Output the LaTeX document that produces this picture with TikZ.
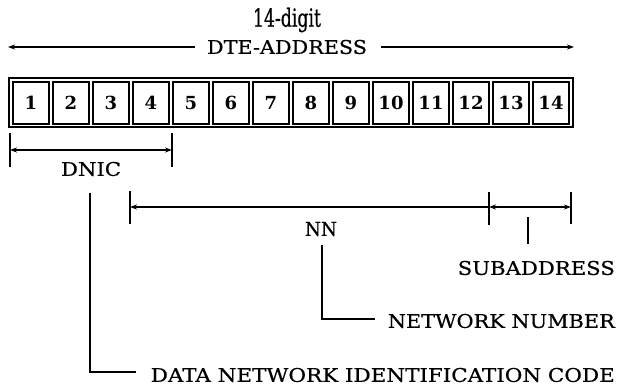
\documentclass[tikz,border=0pt]{standalone}
\usepackage{fontspec}
\setmainfont{DejaVu Serif}
\newfontfamily\lblfont[FakeBold=0.6]{DejaVu Serif}
\usetikzlibrary{arrows.meta}
\newcommand\fitlabel[3]{\resizebox{#1pt}{#2pt}{\lblfont #3}}
\begin{document}
\begin{tikzpicture}[x=1pt,y=-1pt,
  frame/.style={line width=2.8pt},
  cell/.style={draw,line width=2.4pt,minimum width=36pt,minimum height=42pt,inner sep=0pt,
    font=\bfseries\fontsize{18}{18}\selectfont},
  dim/.style={line width=1.4pt},
  tip/.style={-{Stealth[length=7pt,width=5pt]}},
  both/.style={{Stealth[length=7pt,width=5pt]}-{Stealth[length=7pt,width=5pt]}},
  tick/.style={line width=1.9pt},
  lead/.style={line width=1.7pt},
  lbl/.style={inner sep=0pt}]
\useasboundingbox (0,0) rectangle (621,386);

% title and overall extent
\node[lbl] (t1) at (287,20) {\fitlabel{68}{19}{14-digit}};
\node[lbl] (t2) at (287,47) {\fitlabel{160}{14}{DTE-ADDRESS}};
\coordinate (aL) at (8,47);
\coordinate (aR) at (574,47);
\draw[dim,tip] ([xshift=-12pt]t2.west) -- (aL);
\draw[dim,tip] ([xshift=14pt]t2.east) -- (aR);

% the fourteen digit cells
\draw[frame] (9,78) rectangle (573,127);
\foreach \i in {1,...,14}{
  \node[cell] (c\i) at ({31+40*(\i-1)},103) {\i};
}

% DNIC extent
\coordinate (d1t) at (10,133); \coordinate (d1b) at (10,167);
\coordinate (d2t) at (172,133); \coordinate (d2b) at (172,167);
\draw[tick] (d1t) -- (d1b);
\draw[tick] (d2t) -- (d2b);
\coordinate (d1m) at (10,150); \coordinate (d2m) at (172,150);
\draw[dim,both] (d1m) -- (d2m);
\node[lbl] (dnic) at (91,169) {\fitlabel{60}{14}{DNIC}};

% NN and subaddress extents
\coordinate (n1t) at (130,191); \coordinate (n1b) at (130,224);
\coordinate (n2t) at (489,192); \coordinate (n2b) at (489,225);
\coordinate (n3t) at (571,192); \coordinate (n3b) at (571,224);
\draw[tick] (n1t) -- (n1b);
\draw[tick] (n2t) -- (n2b);
\draw[tick] (n3t) -- (n3b);
\coordinate (n1m) at (130,207); \coordinate (n2m) at (489,207); \coordinate (n3m) at (571,207);
\draw[dim,tip] (n2m) -- (n1m);
\draw[dim,both] (n2m) -- (n3m);
\node[lbl] (nn) at (321,229) {\fitlabel{32}{14}{NN}};

% the long names and their leaders
\node[lbl,anchor=east] (sub) at (615,268) {\fitlabel{157}{14}{SUBADDRESS}};
\node[lbl,anchor=east] (netno) at (615,321) {\fitlabel{227}{14}{NETWORK NUMBER}};
\node[lbl,anchor=east] (dnicname) at (615,375) {\fitlabel{464}{14}{DATA NETWORK IDENTIFICATION CODE}};

\coordinate (s0) at (528,217);
\draw[lead] (s0) -- (528,244);
\coordinate (nn0) at (322,245);
\draw[lead] (nn0) |- ([xshift=-13pt,yshift=2pt]netno.west);
\coordinate (dn0) at (90,193);
\draw[lead] (dn0) |- ([xshift=-15pt,yshift=3pt]dnicname.west);
\end{tikzpicture}
\end{document}
